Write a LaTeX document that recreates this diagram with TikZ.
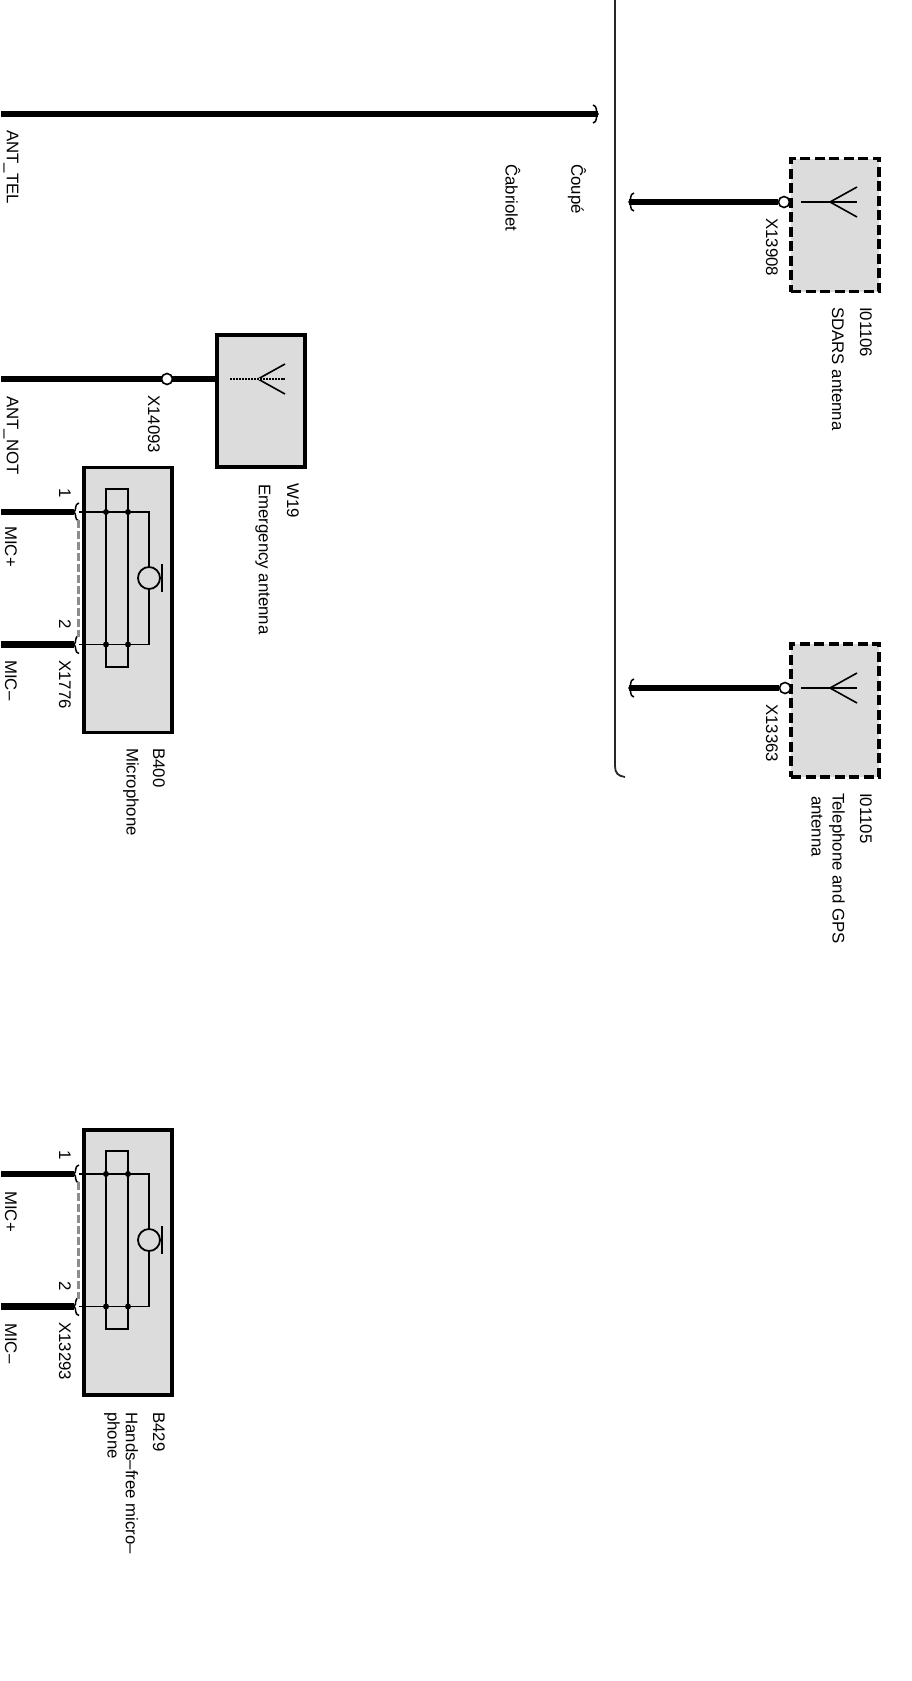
\documentclass[tikz,border=0pt]{standalone}
\usepackage{fontspec}
\setmainfont{Liberation Sans}
\usetikzlibrary{calc}
\definecolor{boxgray}{HTML}{DCDCDC}

\begin{document}
\begin{tikzpicture}[x=1pt, y=-1pt]
        % ================= styles =================
        \tikzset{
            % boxes
            partbox/.style={rectangle, draw=black, line width=3.2pt, fill=boxgray, inner sep=0pt, outer sep=0pt},
            optbox/.style={partbox, line width=3.6pt, dash pattern=on 10pt off 4.5pt},
            innerbox/.style={rectangle, draw=black, line width=1.8pt, inner sep=0pt, outer sep=0pt, minimum width=22pt, minimum height=178pt},
            % small nodes
            plugnode/.style={circle, draw=black, line width=1.6pt, fill=white, minimum size=11pt, inner sep=0pt},
            jointnode/.style={circle, fill=black, minimum size=6pt, inner sep=0pt},
            micnode/.style={circle, draw=black, line width=1.8pt, fill=boxgray, minimum size=22pt, inner sep=0pt},
            % lines
            wire/.style={line width=6.4pt, black},
            signal/.style={line width=1.8pt, black},
            bridge/.style={line width=3pt, black!45, dash pattern=on 8pt off 3pt},
            border/.style={line width=1.8pt, black!85},
            % text, all of it runs top to bottom
            lbl/.style={rotate=-90, anchor=west, inner sep=0pt, font=\fontsize{16.8}{19}\selectfont},
            % wire end and antenna symbol
            wireend/.pic={\draw[line width=1.5pt] (5,-9) .. controls (0,-8) and (3,-2) .. (0,0) .. controls (3,2) and (0,8) .. (5,9);},
            aerial/.pic={\draw[line width=1.6pt] (-29,0) -- (27,0);
                \draw[line width=1.6pt] (27,-15) -- (0,0) -- (27,15);}
        }
        \useasboundingbox (0,0) rectangle (911,1681);

        % ================= 1. top: ANT_TEL and the divider =================
        \coordinate (telstart) at (1,114);
        \coordinate (telend) at (598,114);
        \draw[wire] (telstart) -- (telend);
        \pic[xscale=-1] at (telend) {wireend};
        \node[lbl] (anttel) at (11,130) {ANT\_TEL};
        \node[lbl] (coupe) at (577,164) {Ĉoupé};
        \node[lbl] (cabrio) at (513,164) {Ĉabriolet};

        \coordinate (divtop) at (615,0);
        \coordinate (divturn) at (615,766);
        \coordinate (divend) at (625,777);
        \draw[border] (divtop) -- (divturn) .. controls (615,773) and (618,776) .. (divend);

        % ================= 2. right: SDARS antenna =================
        \begin{scope}[shift={(0,202)}]
            \node[optbox, minimum width=88pt, minimum height=133pt] (sdars) at (835,23) {};
            \coordinate (s1) at (629,0);
            \node[plugnode] (x13908) at (784,0) {};
            \draw[wire, line width=5.6pt] (s1) -- (x13908);
            \pic at (s1) {wireend};
            \pic at (830,0) {aerial};
            \node[lbl] (x13908t) at (772,16) {X13908};
            \node[lbl] (i01106) at (866,105) {I01106};
            \node[lbl] (sdarst) at (838,105) {SDARS antenna};
        \end{scope}

        % ================= 3. right: telephone antenna =================
        \begin{scope}[shift={(0,688)}]
            \node[optbox, minimum width=88pt, minimum height=132.5pt] (telgps) at (835,22.5) {};
            \coordinate (t1) at (629,0);
            \node[plugnode] (x13363) at (785,0) {};
            \draw[wire, line width=5.6pt] (t1) -- (x13363);
            \pic at (t1) {wireend};
            \pic at (830,0) {aerial};
            \node[lbl] (x13363t) at (772,16) {X13363};
            \node[lbl] (i01105) at (866,105) {I01105};
            \node[lbl] (telgpst) at (837,105) {Telephone and GPS};
            \node[lbl] (telgpsu) at (817,108) {antenna};
        \end{scope}

        % ================= 4. left: emergency antenna =================
        \begin{scope}[shift={(0,379)}]
            \node[partbox, minimum width=88pt, minimum height=132pt] (w19) at (261,22) {};
            \coordinate (n1) at (1,0);
            \draw[wire] (n1) -- (n1 -| w19.west);
            \node[plugnode] (x14093) at (167,0) {};
            \pic at (258,0) {aerial};
            \draw[line width=1.2pt, boxgray, dash pattern=on 1pt off 2pt] (229,0) -- (283,0);
            \node[lbl] (antnot) at (11,17) {ANT\_NOT};
            \node[lbl] (x14093t) at (154,16) {X14093};
            \node[lbl] (w19t) at (293,104) {W19};
            \node[lbl] (emerg) at (263,105) {Emergency antenna};
        \end{scope}

        % ================= 5. left: microphone B400 =================
        \begin{scope}[shift={(0,512)}]
            \node[partbox, minimum width=88pt, minimum height=265pt] (b400) at (128,88) {};
            \node[innerbox] (b400in) at (117,66) {};
            % wire ends
            \coordinate (m1) at (1,0);
            \coordinate (m2) at (1,132.5);
            \coordinate (c1) at (74,0);
            \coordinate (c2) at (74,132.5);
            \draw[wire] (m1) -- (c1);
            \draw[wire] (m2) -- (c2);
            \foreach \p in {c1,c2} \pic at (\p) {wireend};
            \draw[bridge] ([yshift=-8pt]c1 -| 78,0) -- ([yshift=8pt]c2 -| 78,0);
            % inner circuit
            \node[micnode] (b400mic) at (149,66) {};
            \coordinate (e1) at (79,0);
            \coordinate (e2) at (79,132.5);
            \draw[signal] (e1) -| (b400mic.north);
            \draw[signal] (e2) -| (b400mic.south);
            \coordinate (p1) at (162,52);
            \coordinate (p2) at (162,80);
            \draw[signal] (p1) -- (p2);
            \coordinate (d1) at (106,0);
            \coordinate (d2) at (128,0);
            \coordinate (d3) at (106,132.5);
            \coordinate (d4) at (128,132.5);
            \foreach \p in {d1,d2,d3,d4} \node[jointnode] (\p j) at (\p) {};
            % labels
            \node[lbl] (pin1) at (65,-24) {1};
            \node[lbl] (pin2) at (65,107) {2};
            \node[lbl] (micp) at (11,14) {MIC+};
            \node[lbl] (micm) at (11,148) {MIC–};
            \node[lbl] (x1776) at (65,148) {X1776};
            \node[lbl] (b400t) at (159,236) {B400};
            \node[lbl] (b400u) at (131,236) {Microphone};
        \end{scope}

        % ================= 6. left: microphone B429 =================
        \begin{scope}[shift={(0,1174)}]
            \node[partbox, minimum width=88pt, minimum height=265pt] (b429) at (128,88.5) {};
            \node[innerbox] (b429in) at (117,66) {};
            % wire ends
            \coordinate (m1) at (1,0);
            \coordinate (m2) at (1,132.5);
            \coordinate (c1) at (74,0);
            \coordinate (c2) at (74,132.5);
            \draw[wire] (m1) -- (c1);
            \draw[wire] (m2) -- (c2);
            \foreach \p in {c1,c2} \pic at (\p) {wireend};
            \draw[bridge] ([yshift=-8pt]c1 -| 78,0) -- ([yshift=8pt]c2 -| 78,0);
            % inner circuit
            \node[micnode] (b429mic) at (149,66) {};
            \coordinate (e1) at (79,0);
            \coordinate (e2) at (79,132.5);
            \draw[signal] (e1) -| (b429mic.north);
            \draw[signal] (e2) -| (b429mic.south);
            \coordinate (p1) at (162,52);
            \coordinate (p2) at (162,80);
            \draw[signal] (p1) -- (p2);
            \coordinate (d1) at (106,0);
            \coordinate (d2) at (128,0);
            \coordinate (d3) at (106,132.5);
            \coordinate (d4) at (128,132.5);
            \foreach \p in {d1,d2,d3,d4} \node[jointnode] (\p k) at (\p) {};
            % labels
            \node[lbl] (pin3) at (65,-24) {1};
            \node[lbl] (pin4) at (65,107) {2};
            \node[lbl] (micq) at (11,17) {MIC+};
            \node[lbl] (micn) at (11,149) {MIC–};
            \node[lbl] (x13293) at (65,148) {X13293};
            \node[lbl] (b429t) at (159,238) {B429};
            \node[lbl] (b429u) at (132,238) {Hands–free micro–};
            \node[lbl] (b429v) at (112,238) {phone};
        \end{scope}

    \end{tikzpicture}
\end{document}
